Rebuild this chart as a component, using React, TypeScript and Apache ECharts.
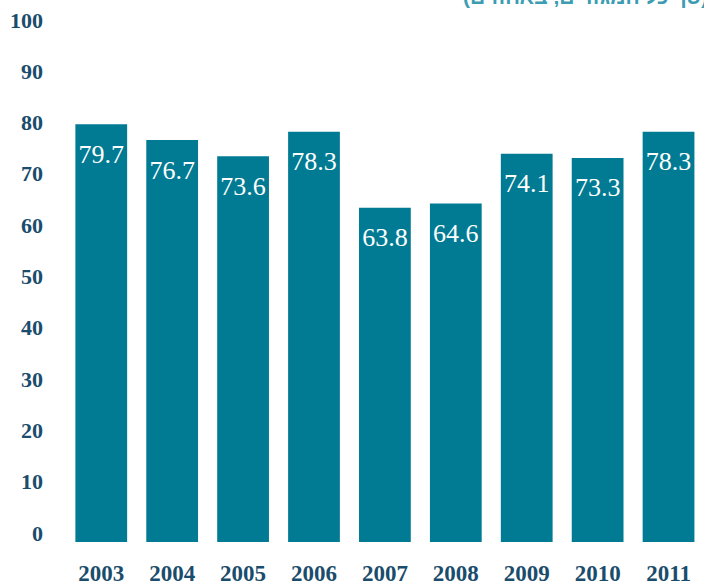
import React, { useEffect, useRef } from "react";
import * as echarts from "echarts";

const years = ["2003", "2004", "2005", "2006", "2007", "2008", "2009", "2010", "2011"];
const values = [79.7, 76.7, 73.6, 78.3, 63.8, 64.6, 74.1, 73.3, 78.3];
const titleText = "(סך כל המגזרים, באחוזים)";

const BAR = "#017b93";
const DARK = "#1a4c6c";
const SERIF = "Liberation Serif";

export default function App() {
  const ref = useRef<HTMLDivElement>(null);
  useEffect(() => {
    const chart = echarts.init(ref.current!, null, { renderer: "svg" });
    chart.setOption({
      animation: false,
      backgroundColor: "#ffffff",
      grid: [
        { left: 65.8, right: -7.9, top: 18, bottom: 44, containLabel: false },
        { left: 51, right: 600, top: 20, bottom: 53, containLabel: false },
      ],
      xAxis: [
        {
          type: "category",
          data: years,
          gridIndex: 0,
          axisLine: { show: false },
          axisTick: { show: false },
          axisLabel: {
            margin: 20,
            color: DARK,
            fontFamily: SERIF,
            fontWeight: "bold",
            fontSize: 23,
          },
        },
        { type: "value", gridIndex: 1, show: false, min: 0, max: 1 },
      ],
      yAxis: [
        {
          type: "value",
          gridIndex: 0,
          min: 0,
          max: 100,
          show: false,
        },
        {
          type: "value",
          gridIndex: 1,
          min: 0,
          max: 100,
          interval: 10,
          axisLine: { show: false },
          axisTick: { show: false },
          splitLine: { show: false },
          axisLabel: {
            margin: 8,
            color: DARK,
            fontFamily: SERIF,
            fontWeight: "bold",
            fontSize: 22,
          },
        },
      ],
      series: [
        {
          type: "bar",
          data: values,
          xAxisIndex: 0,
          yAxisIndex: 0,
          barCategoryGap: "27%",
          itemStyle: { color: BAR },
          label: {
            show: true,
            position: "insideTop",
            distance: 17,
            color: "#ffffff",
            fontFamily: SERIF,
            fontWeight: "normal",
            fontSize: 26,
            textBorderWidth: 0,
            formatter: (p: any) => p.value.toFixed(1),
          },
        },
      ],
      graphic: [
        {
          type: "text",
          right: -4,
          top: -14,
          style: {
            text: titleText,
            fill: "#3b9cb2",
            font: "bold 21px 'Liberation Sans'",
          },
        },
      ],
    });
    return () => chart.dispose();
  }, []);
  return (
    <div
      ref={ref}
      style={{ position: "fixed", left: 0, top: 0, width: 704, height: 586 }}
    />
  );
}
